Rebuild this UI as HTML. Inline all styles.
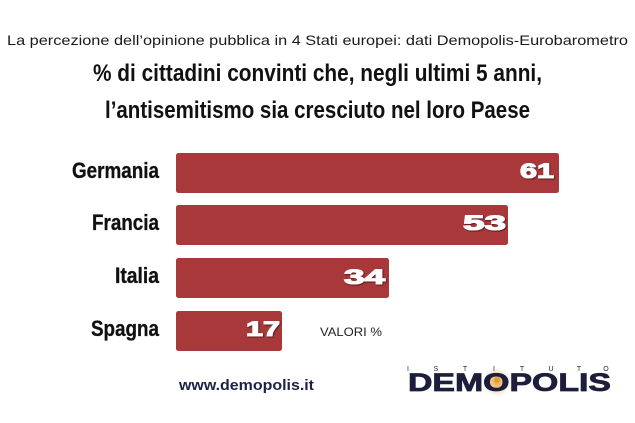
<!DOCTYPE html>
<html>
<head>
<meta charset="utf-8">
<style>
html,body{margin:0;padding:0;background:#fff;}
svg{display:block;}
</style>
</head>
<body>
<svg width="635" height="423" viewBox="0 0 635 423" xmlns="http://www.w3.org/2000/svg">
  <defs>
    <radialGradient id="glow" cx="50%" cy="50%" r="50%">
      <stop offset="0%" stop-color="#e9a73a" stop-opacity="1"/>
      <stop offset="45%" stop-color="#eab86a" stop-opacity="0.7"/>
      <stop offset="100%" stop-color="#f3dcb8" stop-opacity="0"/>
    </radialGradient>
    <filter id="sh" x="-20%" y="-20%" width="140%" height="140%">
      <feDropShadow dx="0.8" dy="0.8" stdDeviation="0.6" flood-color="#3a0a0a" flood-opacity="0.9"/>
    </filter>
  </defs>
  <rect width="635" height="423" fill="#fff"/>

  <!-- subtitle -->
  <text x="7" y="45" font-family="Liberation Sans, sans-serif" font-size="14" fill="#1a1a1a" textLength="621" lengthAdjust="spacingAndGlyphs">La percezione dell’opinione pubblica in 4 Stati europei: dati Demopolis-Eurobarometro</text>

  <!-- title -->
  <text x="93" y="81" font-family="Liberation Sans, sans-serif" font-weight="bold" font-size="24.5" fill="#111" textLength="449" lengthAdjust="spacingAndGlyphs">% di cittadini convinti che, negli ultimi 5 anni,</text>
  <text x="105" y="118" font-family="Liberation Sans, sans-serif" font-weight="bold" font-size="24.5" fill="#111" textLength="425" lengthAdjust="spacingAndGlyphs">l’antisemitismo sia cresciuto nel loro Paese</text>

  <!-- bars -->
  <g fill="#a8383a">
    <rect x="176" y="153" width="383" height="40" rx="2.5"/>
    <rect x="176" y="205" width="332" height="40" rx="2.5"/>
    <rect x="176" y="258" width="213" height="40" rx="2.5"/>
    <rect x="176" y="311" width="106" height="40" rx="2.5"/>
  </g>

  <!-- labels -->
  <g font-family="Liberation Sans, sans-serif" font-weight="bold" font-size="22" fill="#111" stroke="#111" stroke-width="0.3">
    <text x="72" y="178" textLength="87" lengthAdjust="spacingAndGlyphs">Germania</text>
    <text x="92" y="230" textLength="67" lengthAdjust="spacingAndGlyphs">Francia</text>
    <text x="115" y="283" textLength="44" lengthAdjust="spacingAndGlyphs">Italia</text>
    <text x="91" y="336" textLength="68" lengthAdjust="spacingAndGlyphs">Spagna</text>
  </g>

  <!-- values -->
  <g font-family="Liberation Sans, sans-serif" font-weight="bold" font-size="21.5" fill="#fff" stroke="#fff" stroke-width="1.1" filter="url(#sh)">
    <text x="520" y="178" textLength="34" lengthAdjust="spacingAndGlyphs">61</text>
    <text x="463" y="230" textLength="43" lengthAdjust="spacingAndGlyphs">53</text>
    <text x="344" y="284" textLength="41" lengthAdjust="spacingAndGlyphs">34</text>
    <text x="246" y="336" textLength="34" lengthAdjust="spacingAndGlyphs">17</text>
  </g>

  <!-- VALORI % -->
  <text x="320" y="336" font-family="Liberation Sans, sans-serif" font-size="12" fill="#222" textLength="62" lengthAdjust="spacingAndGlyphs">VALORI %</text>

  <!-- website -->
  <text x="179" y="390" font-family="Liberation Sans, sans-serif" font-weight="bold" font-size="15" fill="#1e2147" textLength="135" lengthAdjust="spacingAndGlyphs">www.demopolis.it</text>

  <!-- logo -->
  <circle cx="497" cy="382" r="15" fill="url(#glow)"/>
  <g font-family="Liberation Sans, sans-serif" font-size="7" fill="#1c1e3c" text-anchor="middle">
    <text x="408" y="371">I</text>
    <text x="436" y="371">S</text>
    <text x="465" y="371">T</text>
    <text x="494" y="371">I</text>
    <text x="522" y="371">T</text>
    <text x="551" y="371">U</text>
    <text x="579" y="371">T</text>
    <text x="606" y="371">O</text>
  </g>
  <text x="408" y="391" font-family="Liberation Sans, sans-serif" font-weight="bold" font-size="25" fill="#1c1e3c" textLength="203" lengthAdjust="spacingAndGlyphs" stroke="#1c1e3c" stroke-width="0.8">DEMOPOLIS</text>
  <circle cx="497" cy="380" r="3" fill="#e0a030"/>
</svg>
</body>
</html>
